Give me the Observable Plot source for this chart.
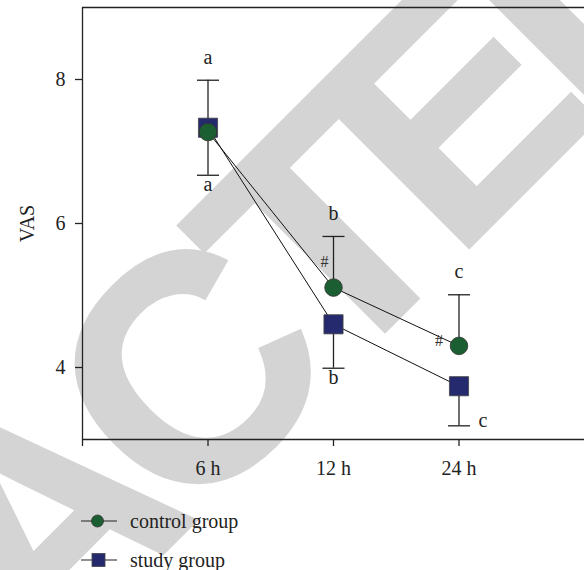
<!DOCTYPE html>
<html>
<head>
<meta charset="utf-8">
<script src="https://cdn.jsdelivr.net/npm/d3@7"></script>
<script src="https://cdn.jsdelivr.net/npm/@observablehq/plot@0.6"></script>
<style>
  html, body { margin: 0; padding: 0; background: #fff; }
  #wrap { position: relative; width: 584px; height: 570px; overflow: hidden; }
  #wm { position: absolute; left: 0; top: 0; z-index: 0; }
  #chart { position: absolute; left: 0; top: 0; z-index: 1; width: 584px; }
  .legend { font-family: "Liberation Serif", serif; font-size: 20px; color: #222; padding-left: 81px; }
  .item { display: flex; align-items: center; height: 24px; }
  .item svg { margin-right: 13px; }
</style>
</head>
<body>
<div id="wrap">
  <svg id="wm" width="584" height="570"></svg>
  <div id="chart"></div>
</div>
<script>
// ---- data ----
const timeLabels   = ["6 h", "12 h", "24 h"];
const controlMean  = [7.27, 5.11, 4.30];
const controlSD    = [0.72, 0.71, 0.71];
const studyMean    = [7.33, 4.60, 3.74];
const studySD      = [0.66, 0.61, 0.55];
const upperLetters = ["a", "b", "c"];
const lowerLetters = ["a", "b", "c"];
const sigMarks     = ["", "#", "#"];
const yTicks       = [4, 6, 8];
const seriesNames  = ["control group", "study group"];

const green = "#1b5e31";
const navy = "#252a6f";
const ink = "#222";

const control = timeLabels.map((t, k) => ({
  i: k + 1, t, mean: controlMean[k], end: controlMean[k] + controlSD[k],
  up: upperLetters[k], sig: sigMarks[k]
}));
const study = timeLabels.map((t, k) => ({
  i: k + 1, t, mean: studyMean[k], end: studyMean[k] - studySD[k],
  low: lowerLetters[k]
}));

const capSymbol = { draw(ctx) { ctx.moveTo(-11, 0); ctx.lineTo(11, 0); } };

// ---- watermark (decoration, behind the chart) ----
d3.select("#wm").append("text")
  .attr("transform", "translate(-513,1229) rotate(-45)")
  .attr("font-family", "Liberation Sans, Arial, sans-serif")
  .attr("font-weight", "bold")
  .attr("font-size", 320)
  .attr("fill", "#d4d4d4")
  .attr("stroke", "#d4d4d4")
  .attr("stroke-width", 4)
  .attr("stroke-linejoin", "miter")
  .style("font-kerning", "none")
  .style("letter-spacing", "-23px")
  .text("RETRACTED");

const chart = Plot.plot({
  width: 584,
  height: 500,
  marginTop: 7,
  marginBottom: 61,
  marginLeft: 82,
  marginRight: 0,
  style: { background: "transparent", fontFamily: "'Liberation Serif', serif", fontSize: "20px", color: ink, overflow: "visible" },
  x: { domain: [0, 4], axis: null },
  y: { domain: [3, 9], axis: null },
  marks: [
    Plot.ruleY([9], { stroke: ink, strokeWidth: 1.3 }),
    Plot.ruleY([3], { stroke: ink, strokeWidth: 1.3 }),
    Plot.ruleX([0], { stroke: ink, strokeWidth: 1.3, insetBottom: -7 }),
    Plot.axisX({ ticks: [1, 2, 3], tickFormat: d => timeLabels[d - 1],
      tickSize: 7, tickPadding: 14, label: null, stroke: ink, strokeWidth: 1.3, fill: ink, fontSize: 20 }),
    Plot.axisY({ ticks: yTicks, tickFormat: d => String(d), tickSize: 7, tickPadding: 10, label: "VAS", labelAnchor: "center",
      labelArrow: "none", labelOffset: 63, stroke: ink, strokeWidth: 1.3, fill: ink, fontSize: 20 }),
    // connecting lines
    Plot.line(control, { x: "i", y: "mean", stroke: "#111", strokeWidth: 1 }),
    Plot.line(study, { x: "i", y: "mean", stroke: "#111", strokeWidth: 1 }),
    // error bars (control upward, study downward)
    Plot.ruleX(control, { x: "i", y1: "mean", y2: "end", stroke: ink, strokeWidth: 1.3 }),
    Plot.ruleX(study, { x: "i", y1: "mean", y2: "end", stroke: ink, strokeWidth: 1.3 }),
    Plot.dot(control, { x: "i", y: "end", symbol: capSymbol, r: 1, stroke: ink, strokeWidth: 1.3, fill: "none" }),
    Plot.dot(study, { x: "i", y: "end", symbol: capSymbol, r: 1, stroke: ink, strokeWidth: 1.3, fill: "none" }),
    // markers
    Plot.dot(study, { x: "i", y: "mean", symbol: "square", r: 10.8, fill: navy, stroke: "#444", strokeWidth: 0.8 }),
    Plot.dot(control, { x: "i", y: "mean", symbol: "circle", r: 8.8, fill: green, stroke: "#333", strokeWidth: 0.8 }),
    // letters
    Plot.text(control, { x: "i", y: "end", text: "up", dy: -23, fill: ink, fontSize: 20 }),
    Plot.text(study.slice(0, 2), { x: "i", y: "end", text: "low", dy: 9, fill: ink, fontSize: 20 }),
    Plot.text(study.slice(2), { x: "i", y: "end", text: "low", dx: 24, dy: -5, fill: ink, fontSize: 20 }),
    // significance marks
    Plot.text(control.slice(1, 2), { x: "i", y: d => (d.mean + d.end) / 2, text: "sig", dx: -9, fill: "#333", fontSize: 16 }),
    Plot.text(control.slice(2), { x: "i", y: "mean", text: "sig", dx: -20, dy: -5, fill: "#333", fontSize: 16 })
  ]
});

const host = document.getElementById("chart");
host.appendChild(chart);

// ---- legend below the chart ----
const legend = document.createElement("div");
legend.className = "legend";
legend.style.marginTop = "9px";
seriesNames.forEach((name, k) => {
  const item = document.createElement("div");
  item.className = "item";
  if (k === 1) item.style.marginTop = "15px";
  const sw = k === 0
    ? `<svg width="36" height="24"><line x1="0" x2="36" y1="12" y2="12" stroke="${ink}" stroke-width="1.2"/><circle cx="16.5" cy="12" r="6" fill="${green}" stroke="#333" stroke-width="0.8"/></svg>`
    : `<svg width="36" height="24"><line x1="0" x2="36" y1="12" y2="12" stroke="${ink}" stroke-width="1.2"/><rect x="11" y="5.5" width="13" height="13" fill="${navy}" stroke="#444" stroke-width="0.8"/></svg>`;
  item.innerHTML = sw + `<span>${name}</span>`;
  legend.appendChild(item);
});
host.appendChild(legend);
</script>
</body>
</html>
